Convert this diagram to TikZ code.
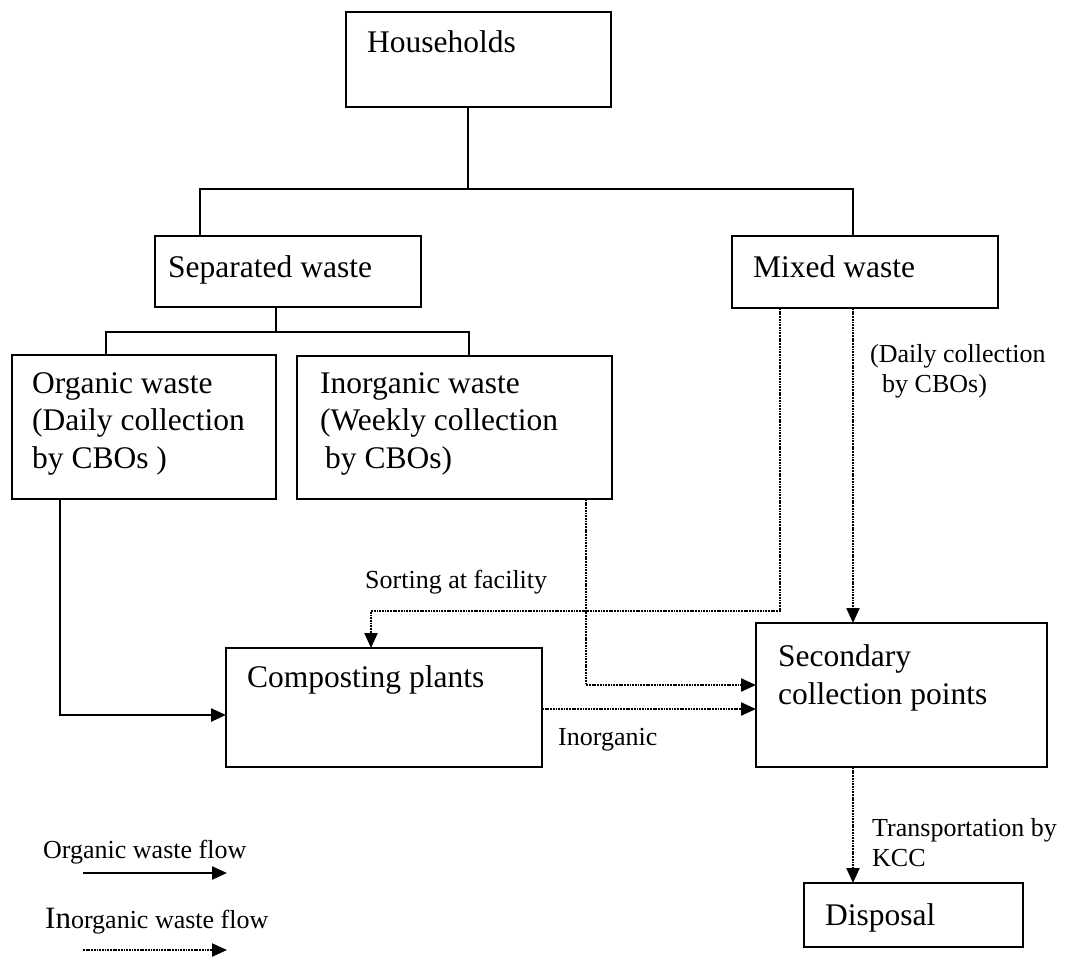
\documentclass[tikz,border=0pt]{standalone}
\usepackage{fontspec}
\setmainfont{Liberation Serif}
\usetikzlibrary{arrows.meta}

\begin{document}
\begin{tikzpicture}[
    x=1pt, y=-1pt,
    box/.style={draw, line width=2.8pt, outer sep=0pt, inner sep=0pt,
      anchor=north west},
    % multi-line texts are placed by the baseline of their last line
    boxtext/.style={font=\fontsize{31.5}{37.5}\selectfont, align=left,
      inner sep=0pt, anchor=base west},
    lbl/.style={font=\fontsize{26}{30}\selectfont, align=left,
      inner sep=0pt, anchor=base west},
    tree/.style={line width=2.4pt},
    flowtip/.tip={Triangle[length=15pt, width=13pt]},
    flow/.style={line width=2.4pt, -flowtip},
    iflow/.style={line width=2.2pt, dash pattern=on 1.8pt off 0.9pt, -flowtip},
  ]
  \fill[white] (0,0) rectangle (1066,959);
  \useasboundingbox (0,0) rectangle (1066,959);

  % boxes
  \node[box, minimum width=265pt, minimum height=95pt]  (hh)    at (346,12)  {};
  \node[box, minimum width=266pt, minimum height=71pt]  (sep)   at (155,236) {};
  \node[box, minimum width=266pt, minimum height=72pt]  (mix)   at (732,236) {};
  \node[box, minimum width=264pt, minimum height=144pt] (org)   at (12,355)  {};
  \node[box, minimum width=315pt, minimum height=143pt] (inorg) at (297,356) {};
  \node[box, minimum width=316pt, minimum height=119pt] (comp)  at (226,648) {};
  \node[box, minimum width=291pt, minimum height=144pt] (sec)   at (756,623) {};
  \node[box, minimum width=219pt, minimum height=64pt]  (disp)  at (804,883) {};

  % box texts
  \node[boxtext] (hhT)    at (367,52)  {Households};
  \node[boxtext] (sepT)   at (168,277) {Separated waste};
  \node[boxtext] (mixT)   at (753,277) {Mixed waste};
  \node[boxtext] (orgT)   at (32,468)  {Organic waste\\(Daily collection\\by CBOs )};
  \node[boxtext] (inorgT) at (320,468) {Inorganic waste\\(Weekly collection\\\hspace{5pt}by CBOs)};
  \node[boxtext] (compT)  at (247,687) {Composting plants};
  \node[boxtext] (secT)   at (778,704) {Secondary\\collection points};
  \node[boxtext] (dispT)  at (825,925) {Disposal};

  % junctions of the tree
  \coordinate (j1) at (468,189);
  \coordinate (t1) at (200,189);
  \coordinate (t2) at (853,189);
  \coordinate (s0) at (276,332);
  \coordinate (s1) at (106,332);
  \coordinate (s2) at (469,332);

  \draw[tree] (hh.south -| j1) -- (j1);
  \draw[tree] (sep.north -| t1) |- (t2) -- (mix.north -| t2);
  \draw[tree] (sep.south -| s0) -- (s0);
  \draw[tree] (org.north -| s1) |- (s2) -- (inorg.north -| s2);

  % organic flow
  \coordinate (o1) at (60,715);
  \draw[flow] (org.south -| o1) |- (comp.west |- o1);

  % inorganic flows
  \coordinate (m1) at (780,611);
  \coordinate (m2) at (371,611);
  \coordinate (m3) at (853,700);
  \coordinate (i1) at (586,685);
  \coordinate (c1) at (542,709);
  \draw[iflow] (mix.south -| m1) -- (m1) -- (m2) -- (comp.north -| m2);
  \draw[iflow] (mix.south -| m3) -- (sec.north -| m3);
  \draw[iflow] (inorg.south -| i1) |- (sec.west |- i1);
  \draw[iflow] (comp.east |- c1) -- (sec.west |- c1);
  \draw[iflow] (sec.south -| m3) -- (disp.north -| m3);

  % flow labels
  \node[lbl] (lsort)  at (365,588) {Sorting at facility};
  \node[lbl] (ldaily) at (870,392) {(Daily collection\\\hspace{12pt}by CBOs)};
  \node[lbl] (linorg) at (558,745) {Inorganic};
  \node[lbl] (ltrans) at (872,866) {Transportation by\\KCC};

  % legend
  \node[lbl] (leg1) at (43,858) {Organic waste flow};
  \coordinate (la1) at (83,873);
  \coordinate (la2) at (227,873);
  \draw[flow] (la1) -- (la2);
  \node[lbl] (leg2) at (45,928) {{\fontsize{31}{31}\selectfont In}organic waste flow};
  \coordinate (lb1) at (83,950);
  \coordinate (lb2) at (227,950);
  \draw[iflow] (lb1) -- (lb2);
\end{tikzpicture}
\end{document}
